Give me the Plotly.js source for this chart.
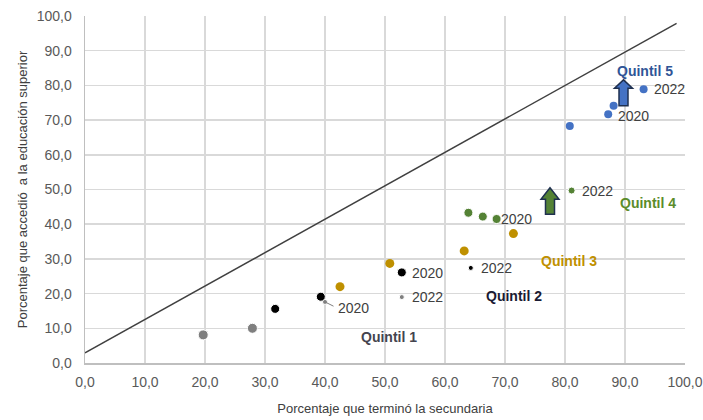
<!DOCTYPE html>
<html>
<head>
<meta charset="utf-8">
<script src="https://cdn.plot.ly/plotly-3.0.1.min.js"></script>
<style>html,body{margin:0;padding:0;background:#fff;}#chart{width:703px;height:420px;}</style>
</head>
<body>
<div id="chart"></div>
<script>
// ---- data ----
const q1X = [19.7, 27.9, 40.0, 52.8];
const q1Y = [8.1, 10.0, 17.6, 19.0];
const q2X = [31.7, 39.3, 52.8, 64.3];
const q2Y = [15.6, 19.1, 26.1, 27.4];
const q3X = [42.5, 50.8, 63.2, 71.4];
const q3Y = [22.0, 28.7, 32.3, 37.3];
const q4X = [63.9, 66.3, 68.6, 81.1];
const q4Y = [43.3, 42.2, 41.5, 49.7];
const q5X = [80.8, 87.2, 88.1, 93.1];
const q5Y = [68.3, 71.7, 74.1, 78.9];
const diagX = [0, 98.6];
const diagY = [2.9, 97.9];
const quintilNames = ["Quintil 1", "Quintil 2", "Quintil 3", "Quintil 4", "Quintil 5"];
const quintilLabelX = [50.7, 71.5, 80.7, 93.8, 93.3];
const quintilLabelY = [7.6, 19.4, 29.5, 46.0, 84.1];
// arrows: x centre, bottom, head base, top
const arrowX = [77.5, 89.75];
const arrowBottom = [42.9, 74.1];
const arrowHeadBase = [47.2, 79.2];
const arrowTop = [50.5, 81.6];
const xTickVals = [0,10,20,30,40,50,60,70,80,90,100];
const yTickVals = [0,10,20,30,40,50,60,70,80,90,100];

const FONT = "Liberation Sans, Arial, sans-serif";
const colors = ["#7F7F7F", "#000000", "#BF9000", "#548235", "#4472C4"];
const labelColors = ["#44444F", "#1A1A33", "#BF9000", "#5B8C2A", "#2F5597"];

const traces = [
  {x: diagX, y: diagY, mode: "lines", line: {color: "#404040", width: 1.5}, hoverinfo: "skip"},
  {x: q1X, y: q1Y, mode: "markers", marker: {color: colors[0], opacity: 1, size: [10, 10, 5, 5]}},
  {x: q2X, y: q2Y, mode: "markers", marker: {color: colors[1], opacity: 1, size: [9, 9, 9, 5]}},
  {x: q3X, y: q3Y, mode: "markers", marker: {color: colors[2], opacity: 1, size: 9}},
  {x: q4X, y: q4Y, mode: "markers", marker: {color: colors[3], opacity: 1, size: [9, 9, 9, 7]}},
  {x: q5X, y: q5Y, mode: "markers", marker: {color: colors[4], opacity: 1, size: 8}}
];

const annotations = [];
quintilNames.forEach((t, i) => annotations.push({
  x: quintilLabelX[i], y: quintilLabelY[i], text: "<b>" + t + "</b>", showarrow: false,
  font: {family: FONT, size: 14, color: labelColors[i]}
}));
function yearLabel(x, y, text, dx, dy) {
  annotations.push({x: x, y: y, text: text, showarrow: false, xanchor: "left",
    xshift: dx, yshift: dy, font: {family: FONT, size: 14, color: "#404040"}});
}
yearLabel(q1X[2], q1Y[2], "2020", 11, -6);
yearLabel(q1X[3], q1Y[3], "2022", 8, 0);
yearLabel(q2X[2], q2Y[2], "2020", 8, -1);
yearLabel(q2X[3], q2Y[3], "2022", 8, 0);
yearLabel(q4X[2], q4Y[2], "2020", 2, 0);
yearLabel(q4X[3], q4Y[3], "2022", 8, 0);
yearLabel(q5X[1], q5Y[1], "2020", 8, -2);
yearLabel(q5X[3], q5Y[3], "2022", 8, 0);
// small leader for the Quintil 1 2020 label
annotations.push({x: q1X[2], y: q1Y[2], ax: 10, ay: 5, text: "", showarrow: true,
  arrowhead: 0, arrowwidth: 1, arrowcolor: "#7F7F7F", standoff: 0});

const shapes = [];
const arrowFill = ["#548235", "#4472C4"];
const shaftHalf = 0.75, headHalf = 1.5;
arrowX.forEach((cx, i) => {
  const p = "M " + (cx - shaftHalf) + "," + arrowBottom[i] +
    " L " + (cx + shaftHalf) + "," + arrowBottom[i] +
    " L " + (cx + shaftHalf) + "," + arrowHeadBase[i] +
    " L " + (cx + headHalf) + "," + arrowHeadBase[i] +
    " L " + cx + "," + arrowTop[i] +
    " L " + (cx - headHalf) + "," + arrowHeadBase[i] +
    " L " + (cx - shaftHalf) + "," + arrowHeadBase[i] + " Z";
  shapes.push({type: "path", xref: "x", yref: "y", path: p,
    fillcolor: arrowFill[i], line: {color: "#1F3050", width: 1.5}});
});

const axisCommon = {
  range: [0, 100], tickformat: ".1f", showgrid: true, gridcolor: "#D9D9D9", gridwidth: 1.5,
  zeroline: false, showline: true, linecolor: "#BFBFBF", linewidth: 1.5,
  ticks: "outside", tickcolor: "rgba(0,0,0,0)",
  tickfont: {family: FONT, size: 14, color: "#595959"}, fixedrange: true
};

const layout = {
  width: 703, height: 420,
  margin: {l: 85, r: 18, t: 16, b: 57},
  paper_bgcolor: "#FFFFFF", plot_bgcolor: "#FFFFFF",
  showlegend: false, separators: ",.",
  font: {family: FONT},
  xaxis: Object.assign({}, axisCommon, {tickvals: xTickVals, ticklen: 6,
    title: {text: "Porcentaje que terminó la secundaria", standoff: 14,
      font: {family: FONT, size: 13, color: "#404040"}}}),
  yaxis: Object.assign({}, axisCommon, {tickvals: yTickVals, ticklen: 9,
    title: {text: "Porcentaje que accedió  a la educación superior", standoff: 6,
      font: {family: FONT, size: 13, color: "#404040"}}}),
  annotations: annotations,
  shapes: shapes
};

Plotly.newPlot("chart", traces, layout, {staticPlot: true});
</script>
</body>
</html>
